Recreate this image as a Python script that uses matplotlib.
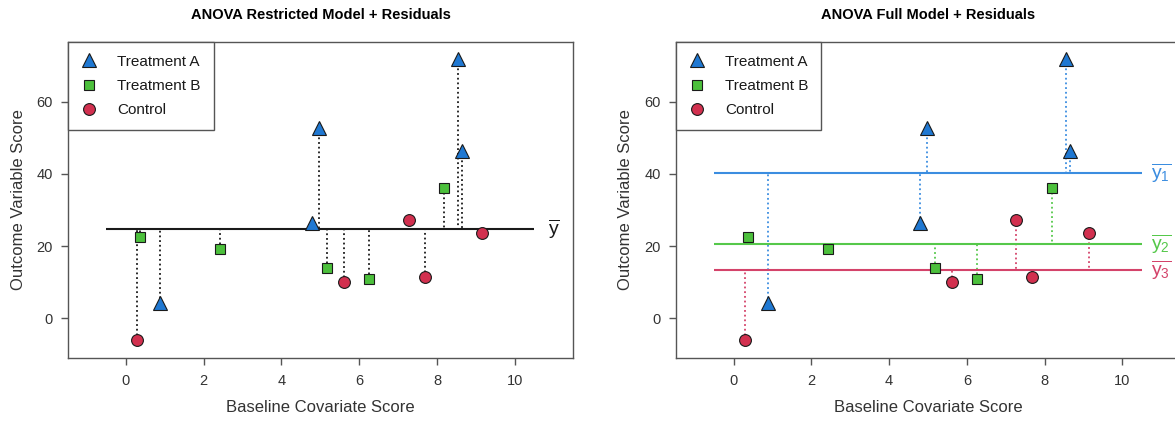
import matplotlib
matplotlib.use("Agg")
import matplotlib.pyplot as plt
import numpy as np

plt.rcParams.update({
    "font.family": ["Liberation Sans", "DejaVu Sans"],
    "mathtext.fontset": "custom",
    "mathtext.rm": "Liberation Sans",
    "mathtext.it": "Liberation Sans",
})

# data
groups = ["Treatment A", "Treatment B", "Control"]
x_a = [0.89, 4.97, 4.79, 8.54, 8.64]
y_a = [4.3, 52.8, 26.5, 71.7, 46.2]
x_b = [0.37, 2.42, 5.17, 6.26, 8.19]
y_b = [22.6, 19.3, 13.9, 10.8, 36.1]
x_c = [0.30, 5.62, 7.27, 7.68, 9.15]
y_c = [-5.9, 10.0, 27.1, 11.5, 23.7]

xs = [x_a, x_b, x_c]
ys = [y_a, y_b, y_c]
markers = ["^", "s", "o"]
msizes = [10.5, 7.2, 8.5]
fills = ["#1f78d2", "#4cc03c", "#d2304f"]
lines = ["#3b8de0", "#55c84a", "#d4436a"]
mean_labels = [r"$\overline{\mathrm{y}_1}$", r"$\overline{\mathrm{y}_2}$", r"$\overline{\mathrm{y}_3}$"]

SPINE = "#555555"
TXT = "#333333"
DOT = (0, (1, 1.6))

fig = plt.figure(figsize=(11.75, 4.21), dpi=100)
axL = fig.add_axes([0.0581, 0.1489, 0.4293, 0.752])
axR = fig.add_axes([0.5753, 0.1489, 0.4293, 0.752])


def style(ax, title):
    ax.set_xlim(-1.48, 11.49)
    ax.set_ylim(-11.1, 76.6)
    ax.set_xticks([0, 2, 4, 6, 8, 10])
    ax.set_yticks([0, 20, 40, 60])
    for s in ax.spines.values():
        s.set_color(SPINE)
        s.set_linewidth(1.0)
    ax.tick_params(direction="out", length=5, width=1, color=SPINE,
                   labelsize=10.5, labelcolor=TXT, pad=6)
    ax.set_xlabel("Baseline Covariate Score", fontsize=12, color=TXT, labelpad=9)
    ax.set_ylabel("Outcome Variable Score", fontsize=12, color=TXT, labelpad=8)
    ax.set_title(title, fontsize=10.5, fontweight="bold", pad=16)


def points(ax):
    for x, y, m, ms, c, g in zip(xs, ys, markers, msizes, fills, groups):
        ax.plot(x, y, linestyle="none", marker=m, ms=ms, mfc=c, mec="#1a1a1a",
                mew=0.8, zorder=5, label=g)
    leg = ax.legend(loc="upper left", bbox_to_anchor=(0, 1), borderaxespad=0,
                    fontsize=11, frameon=True, fancybox=False, framealpha=1,
                    edgecolor=SPINE, borderpad=0.85, labelspacing=0.68,
                    handlelength=1.0, handletextpad=1.35, numpoints=1)
    leg.get_frame().set_linewidth(1.0)
    for t in leg.get_texts():
        t.set_color("#1a1a1a")


# restricted model: one grand mean
grand = np.mean(np.concatenate(ys))
axL.hlines(grand, -0.5, 10.5, color="#1a1a1a", lw=1.5, zorder=3)
for x, y in zip(xs, ys):
    axL.vlines(x, y, grand, color="#1a1a1a", lw=1.3, linestyles=[DOT], zorder=2)
axL.text(11.0, grand, r"$\overline{\mathrm{y}}$", fontsize=14, ha="center",
         va="center", color="#1a1a1a")
points(axL)
style(axL, "ANOVA Restricted Model + Residuals")

# full model: one mean per group
for x, y, lc, lab in zip(xs, ys, lines, mean_labels):
    m = np.mean(y)
    axR.hlines(m, -0.5, 10.5, color=lc, lw=1.5, zorder=3)
    axR.vlines(x, y, m, color=lc, lw=1.3, linestyles=[DOT], zorder=2)
    axR.text(11.0, m, lab, fontsize=14, ha="center", va="center", color=lc)
points(axR)
style(axR, "ANOVA Full Model + Residuals")

fig.savefig("out.png", dpi=100)
